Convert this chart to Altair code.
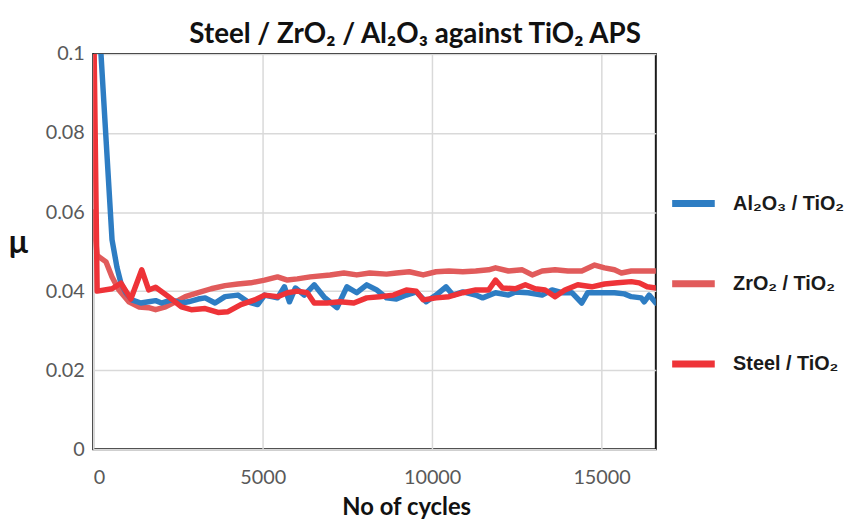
import altair as alt
import pandas as pd

series_names = ["Al₂O₃ / TiO₂", "ZrO₂ / TiO₂", "Steel / TiO₂"]
series_colors = ["#2E7DC3", "#E15B5B", "#EE3338"]

x_ticks = [0, 5000, 10000, 15000]
y_ticks = [0, 0.02, 0.04, 0.06, 0.08, 0.1]

al_cycles = [0, 230, 556, 702, 819, 965, 1140, 1404, 1637, 1842, 2018, 2310, 2602, 2807,
             3099, 3304, 3596, 3889, 4269, 4561, 4853, 5058, 5439, 5643, 5790, 5965, 6228,
             6521, 6813, 7193, 7485, 7778, 8070, 8363, 8655, 8947, 9240, 9532, 9824, 10117,
             10409, 10614, 10906, 11287, 11491, 11871, 12252, 12456, 12836, 13246, 13538,
             13831, 14123, 14415, 14591, 15000, 15380, 15672, 15877, 16169, 16257, 16403, 16600]
al_mu = [0.130, 0.100, 0.053, 0.046, 0.042, 0.0396, 0.0378, 0.037, 0.0373, 0.0376, 0.037,
         0.0378, 0.037, 0.0373, 0.038, 0.0383, 0.037, 0.0386, 0.039, 0.0373, 0.0366, 0.039,
         0.0383, 0.0411, 0.0373, 0.0408, 0.039, 0.0416, 0.0385, 0.0358, 0.0411, 0.0396, 0.0416,
         0.0403, 0.0383, 0.038, 0.039, 0.0398, 0.0373, 0.039, 0.0411, 0.039, 0.0398, 0.039,
         0.0383, 0.0396, 0.039, 0.0398, 0.0396, 0.039, 0.0403, 0.0396, 0.0396, 0.037, 0.0396,
         0.0396, 0.0396, 0.0393, 0.0386, 0.0383, 0.0373, 0.039, 0.037]

zr_cycles = [0, 117, 380, 556, 760, 1052, 1345, 1637, 1842, 2134, 2427, 2719, 3099, 3480,
             3889, 4269, 4649, 5058, 5439, 5731, 6023, 6403, 6988, 7398, 7778, 8158, 8655,
             8947, 9327, 9737, 10117, 10497, 10906, 11287, 11667, 11871, 12252, 12661, 12953,
             13246, 13626, 14006, 14415, 14795, 15088, 15380, 15585, 15877, 16169, 16600]
zr_mu = [0.060, 0.049, 0.0474, 0.0436, 0.0403, 0.0373, 0.036, 0.0358, 0.0353, 0.036, 0.0373,
         0.0386, 0.0396, 0.0406, 0.0414, 0.0418, 0.0421, 0.0428, 0.0436, 0.0428, 0.0431,
         0.0436, 0.0441, 0.0446, 0.0441, 0.0446, 0.0443, 0.0446, 0.0449, 0.0441, 0.0449,
         0.0451, 0.0449, 0.0451, 0.0454, 0.0459, 0.0451, 0.0454, 0.0441, 0.0451, 0.0454,
         0.0451, 0.0451, 0.0466, 0.0459, 0.0454, 0.0446, 0.0451, 0.0451, 0.0451]

st_cycles = [0, 117, 556, 819, 1111, 1433, 1637, 1842, 2222, 2602, 2894, 3304, 3684, 3977,
             4357, 4766, 5058, 5439, 5731, 6023, 6316, 6521, 6901, 7280, 7690, 8070, 8450,
             8860, 9240, 9532, 9737, 10117, 10497, 10906, 11287, 11667, 11871, 12076, 12456,
             12749, 13041, 13334, 13626, 13918, 14298, 14708, 15088, 15468, 15877, 16111,
             16345, 16600]
st_mu = [0.120, 0.040, 0.0406, 0.042, 0.038, 0.0454, 0.0403, 0.041, 0.0386, 0.036, 0.0353,
         0.0356, 0.0346, 0.0348, 0.0366, 0.0378, 0.039, 0.0386, 0.0396, 0.040, 0.0396, 0.037,
         0.037, 0.0373, 0.037, 0.0383, 0.0386, 0.039, 0.0403, 0.040, 0.0378, 0.0383, 0.0386,
         0.0396, 0.0403, 0.0403, 0.0428, 0.0408, 0.0406, 0.0416, 0.0406, 0.0403, 0.0386,
         0.0403, 0.0416, 0.0411, 0.0418, 0.0421, 0.0424, 0.0421, 0.0411, 0.0408]

df_al = pd.DataFrame({"cycles": al_cycles, "mu": al_mu, "series": series_names[0]})
df_zr = pd.DataFrame({"cycles": zr_cycles, "mu": zr_mu, "series": series_names[1]})
df_st = pd.DataFrame({"cycles": st_cycles, "mu": st_mu, "series": series_names[2]})

x_enc = alt.X("cycles:Q",
              scale=alt.Scale(domain=[0, 16600], nice=False, zero=False),
              axis=alt.Axis(values=x_ticks, format="d", title="No of cycles",
                            titleX=316, titleY=66, titleAlign="center",
                            titleBaseline="alphabetic", labelPadding=19,
                            labelFont="Lato", labelFontSize=20, labelColor="#595959",
                            titleFont="Lato", titleFontWeight="bold", titleColor="#111111",
                            titleFontSize=24))
y_enc = alt.Y("mu:Q",
              scale=alt.Scale(domain=[0, 0.1], nice=False),
              axis=alt.Axis(values=y_ticks, format=".2~f", title="μ", titleAngle=0,
                            titleX=-76, titleY=200, titleAlign="center",
                            titleBaseline="alphabetic", labelPadding=9,
                            labelFont="Lato", labelFontSize=20, labelColor="#595959",
                            titleFont="Lato", titleFontWeight="bold", titleColor="#111111",
                            titleFontSize=32))
color_enc = alt.Color("series:N",
                      scale=alt.Scale(domain=series_names, range=series_colors),
                      legend=alt.Legend(title=None, orient="none", legendX=581, legendY=126,
                                        symbolType="stroke", symbolSize=1849,
                                        symbolStrokeWidth=7, rowPadding=42, labelOffset=15,
                                        padding=0, labelFont="Liberation Sans",
                                        labelFontWeight="bold", labelFontSize=20,
                                        labelColor="#1a1a1a", labelLimit=300))


def line_layer(df):
    return alt.Chart(df).mark_line(strokeWidth=5.5, clip=True, strokeJoin="round",
                                   strokeCap="round").encode(x=x_enc, y=y_enc, color=color_enc)


chart = alt.layer(line_layer(df_zr), line_layer(df_al), line_layer(df_st)).properties(
    width=568, height=399,
    background="white",
    autosize=alt.AutoSizeParams(type="none"),
    padding={"left": 86, "top": 44, "right": 193, "bottom": 68},
    title=alt.TitleParams("Steel / ZrO₂ / Al₂O₃ against TiO₂ APS", anchor="middle",
                          frame="group", dx=41, dy=39, offset=12, baseline="alphabetic",
                          font="Lato", fontSize=28, fontWeight="bold", color="#111111"),
).configure_view(
    stroke="#1a1a1a", strokeWidth=2
).configure_axis(
    grid=True, gridColor="#D9D9D9", gridWidth=1.5, ticks=False, domain=False
)

chart.save("out.html", embed_options={"renderer": "svg", "actions": False})
